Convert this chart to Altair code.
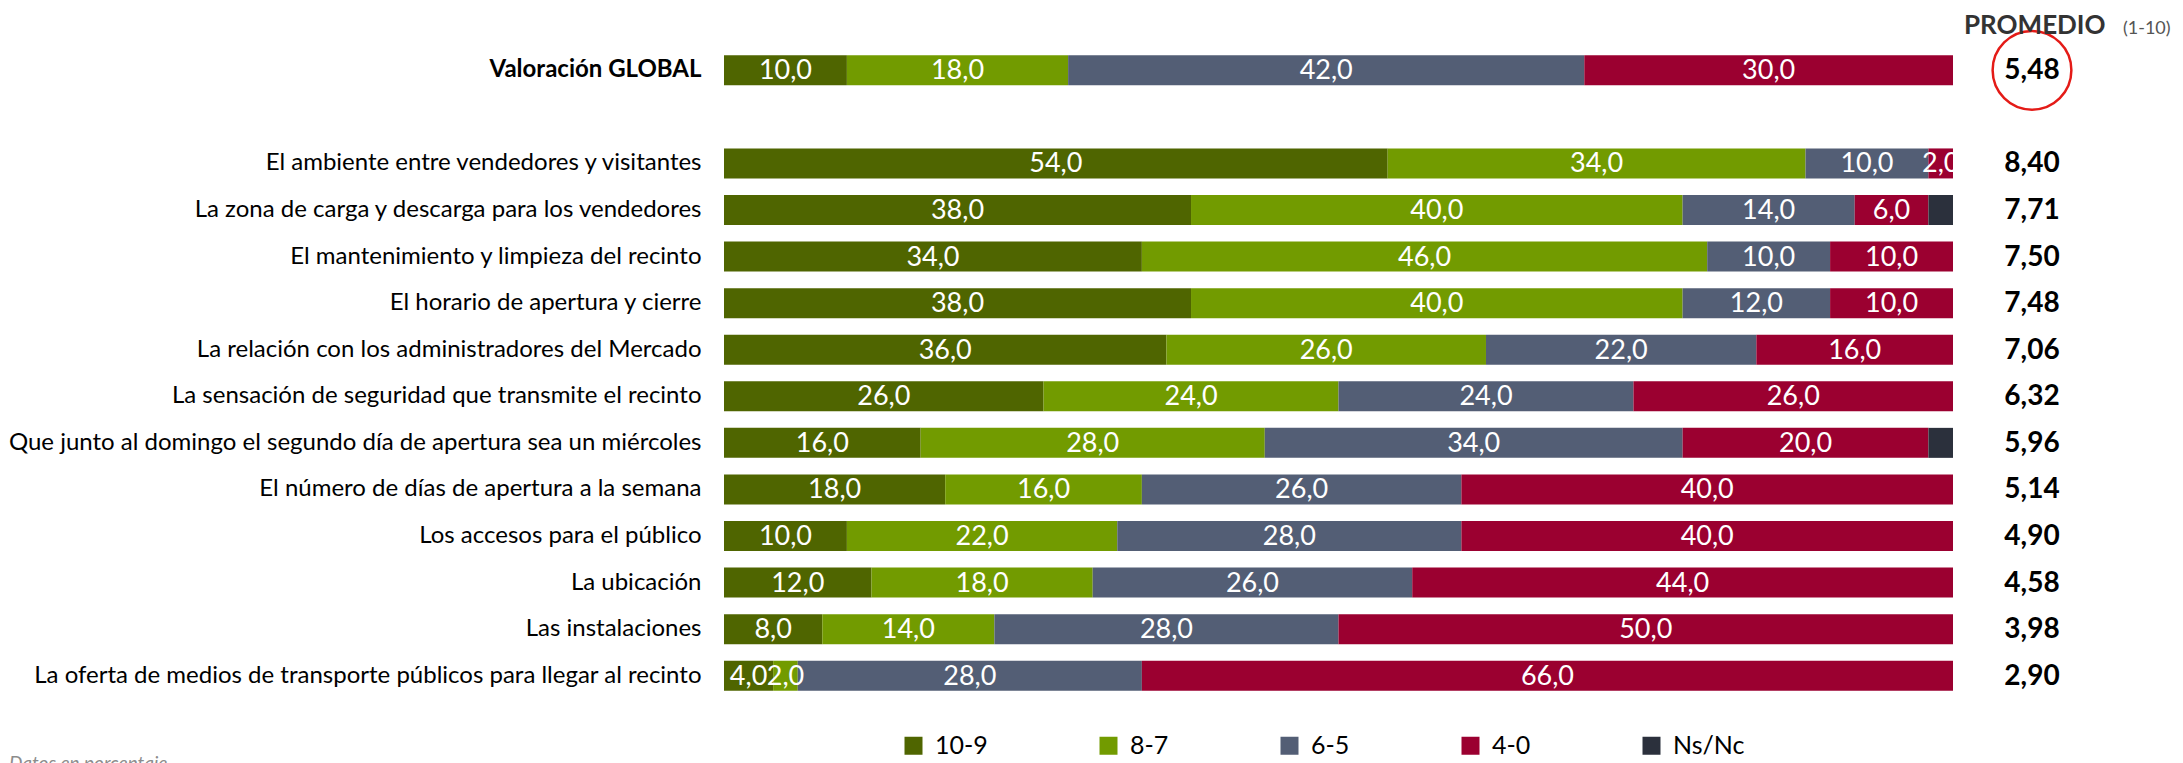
import altair as alt
import pandas as pd

items = [
    "Valoración GLOBAL",
    "El ambiente entre vendedores y visitantes",
    "La zona de carga y descarga para los vendedores",
    "El mantenimiento y limpieza del recinto",
    "El horario de apertura y cierre",
    "La relación con los administradores del Mercado",
    "La sensación de seguridad que transmite el recinto",
    "Que junto al domingo el segundo día de apertura sea un miércoles",
    "El número de días de apertura a la semana",
    "Los accesos para el público",
    "La ubicación",
    "Las instalaciones",
    "La oferta de medios de transporte públicos para llegar al recinto",
]
cats = ["10-9", "8-7", "6-5", "4-0", "Ns/Nc"]
colors = ["#4F6500", "#729B00", "#535E75", "#9B0030", "#2B303C"]
v109 = [10, 54, 38, 34, 38, 36, 26, 16, 18, 10, 12, 8, 4]
v87 = [18, 34, 40, 46, 40, 26, 24, 28, 16, 22, 18, 14, 2]
v65 = [42, 10, 14, 10, 12, 22, 24, 34, 26, 28, 26, 28, 28]
v40 = [30, 2, 6, 10, 10, 16, 26, 20, 40, 40, 44, 50, 66]
vns = [0, 0, 2, 0, 0, 0, 0, 2, 0, 0, 0, 0, 0]
promedio = [5.48, 8.40, 7.71, 7.50, 7.48, 7.06, 6.32, 5.96, 5.14, 4.90, 4.58, 3.98, 2.90]
header = ["PROMEDIO", "(1-10)"]
footnote = ["Datos en porcentaje"]

series = [v109, v87, v65, v40, vns]
rows = []
for i, it in enumerate(items):
    for k, c in enumerate(cats):
        rows.append({"item": it, "cat": c, "ord": k, "value": series[k][i]})
df = pd.DataFrame(rows)
pdf = pd.DataFrame({"item": items, "prom": promedio, "col": "PROMEDIO"})

ydomain = [items[0], " "] + items[1:]
yscale = alt.Scale(domain=ydomain, paddingInner=0.356, paddingOuter=0.178)
FONT = "Lato"
W, H = 1229, 652

yaxis = alt.Axis(
    title=None, domain=False, ticks=False, labelPadding=23,
    labelFont=FONT, labelFontSize=24, labelColor="#000000", labelLimit=1000,
    minExtent=715, maxExtent=715,
    labelFontWeight=alt.condition("datum.value == 'Valoración GLOBAL'", alt.value("bold"), alt.value("normal")),
)

bars = alt.Chart(df).mark_bar().encode(
    x=alt.X("value:Q", stack="zero", scale=alt.Scale(domain=[0, 100], nice=False), axis=None),
    y=alt.Y("item:N", scale=yscale, axis=yaxis),
    color=alt.Color(
        "cat:N",
        scale=alt.Scale(domain=cats, range=colors),
        legend=alt.Legend(
            title=None, orient="none", direction="horizontal", columns=5,
            legendX=177, legendY=686,
            symbolType="square", symbolSize=324, symbolStrokeWidth=0,
            labelFont=FONT, labelFontSize=25, labelColor="#000000",
            labelOffset=9, columnPadding=108,
        ),
    ),
    order=alt.Order("ord:Q", sort="ascending"),
)

labels = alt.Chart(df).transform_stack(
    stack="value", groupby=["item"], sort=[alt.SortField("ord", order="ascending")], as_=["x0", "x1"]
).transform_filter(
    "datum.cat != 'Ns/Nc' && datum.value > 0"
).transform_calculate(
    mid="(datum.x0 + datum.x1) / 2",
    lab="replace(format(datum.value, '.1f'), '.', ',')",
).mark_text(font=FONT, fontSize=27, color="white", baseline="middle", align="center", dy=1, clip=True).encode(
    x=alt.X("mid:Q", scale=alt.Scale(domain=[0, 100], nice=False), axis=None),
    y=alt.Y("item:N", scale=yscale, axis=yaxis),
    text="lab:N",
)

foot = alt.Chart(pd.DataFrame({"t": footnote})).mark_text(
    font=FONT, fontSize=19, fontStyle="italic", color="#8C8C8C", align="left", baseline="top"
).encode(x=alt.value(-715), y=alt.value(708), text="t:N")

left = alt.layer(bars, labels, foot).properties(width=W, height=H)

ptext = alt.Chart(pdf).transform_calculate(
    lab="replace(format(datum.prom, '.2f'), '.', ',')"
).mark_text(font=FONT, fontSize=28, fontWeight="bold", color="#000000", baseline="middle", dy=1).encode(
    x=alt.X("col:N", axis=None),
    y=alt.Y("item:N", scale=yscale, axis=None),
    text="lab:N",
)
ring = alt.Chart(pdf.iloc[[0]]).mark_point(
    shape="circle", filled=False, stroke="#E41B17", strokeWidth=2.5, opacity=1, size=6200,
).encode(
    x=alt.X("col:N", axis=None),
    y=alt.Y("item:N", scale=yscale, axis=None),
)
h1 = alt.Chart(pd.DataFrame({"t": [header[0]]})).mark_text(
    font=FONT, fontSize=26, fontWeight="bold", color="#333333", align="left", baseline="alphabetic"
).encode(x=alt.value(11), y=alt.value(-13), text="t:N")
h2 = alt.Chart(pd.DataFrame({"t": [header[1]]})).mark_text(
    font=FONT, fontSize=18, color="#555555", align="left", baseline="alphabetic"
).encode(x=alt.value(170), y=alt.value(-13), text="t:N")

right = alt.layer(ptext, ring, h1, h2).properties(width=158, height=H)

chart = alt.hconcat(left, right, spacing=0).properties(
    padding={"left": 0, "top": 5, "right": 0, "bottom": 0}
).configure(font=FONT).configure_view(strokeWidth=0, stroke="transparent")

chart.save("out.html", embed_options={"renderer": "svg", "actions": False})
